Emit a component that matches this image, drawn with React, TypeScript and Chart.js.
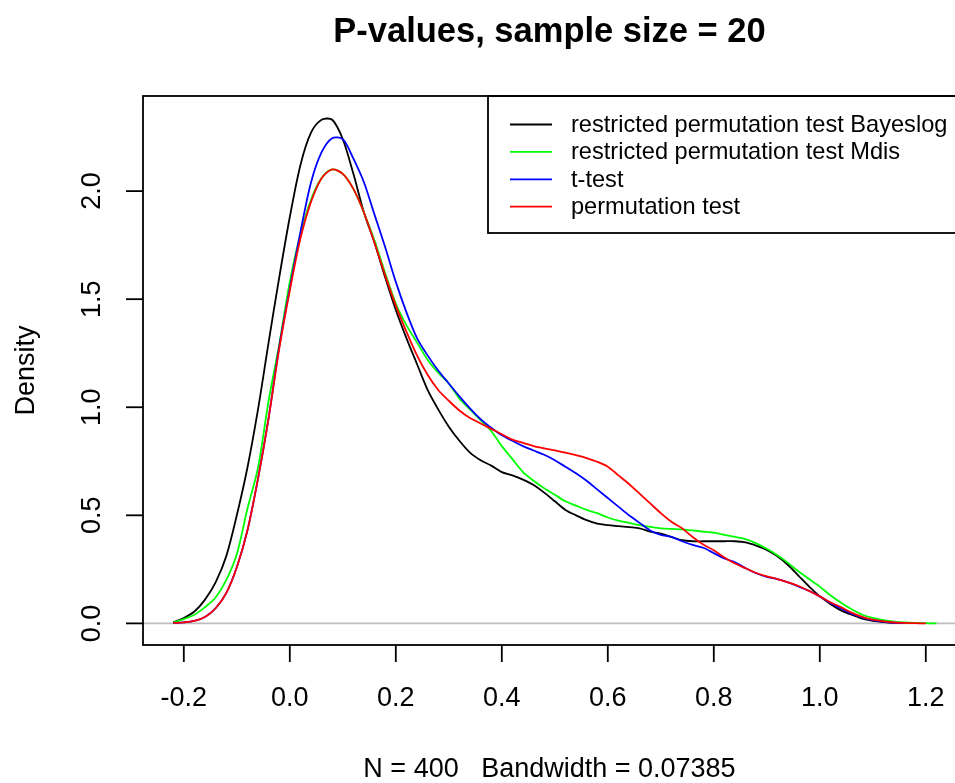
import { useEffect, useRef } from 'react';
import { Chart, registerables } from 'chart.js';

Chart.register(...registerables);

const FONT = '"Liberation Sans", Arial, Helvetica, sans-serif';

const titleText = 'P-values, sample size = 20';
const subText = 'N = 400   Bandwidth = 0.07385';
const yLabel = 'Density';

const xGrid = [
  -0.22, -0.2, -0.18, -0.16, -0.14, -0.12, -0.1, -0.08, -0.06, -0.04, -0.02,
  0.0, 0.02, 0.04, 0.06, 0.08, 0.1, 0.12, 0.14, 0.16, 0.18, 0.2,
  0.22, 0.24, 0.26, 0.28, 0.3, 0.32, 0.34, 0.36, 0.38, 0.4,
  0.42, 0.44, 0.46, 0.48, 0.5, 0.52, 0.54, 0.56, 0.58, 0.6,
  0.62, 0.64, 0.66, 0.68, 0.7, 0.72, 0.74, 0.76, 0.78, 0.8,
  0.82, 0.84, 0.86, 0.88, 0.9, 0.92, 0.94, 0.96, 0.98, 1.0,
  1.02, 1.04, 1.06, 1.08, 1.1, 1.12, 1.14, 1.16, 1.18, 1.2, 1.22,
];

const bayeslog = [
  0.005, 0.025, 0.055, 0.11, 0.19, 0.31, 0.5, 0.72, 0.99, 1.3, 1.6,
  1.88, 2.12, 2.27, 2.33, 2.33, 2.24, 2.08, 1.9, 1.76, 1.6, 1.45,
  1.32, 1.2, 1.08, 0.99, 0.91, 0.845, 0.79, 0.755, 0.73, 0.7,
  0.685, 0.665, 0.64, 0.605, 0.565, 0.525, 0.5, 0.478, 0.462, 0.455,
  0.45, 0.445, 0.44, 0.425, 0.415, 0.4, 0.385, 0.38, 0.38, 0.38,
  0.38, 0.38, 0.375, 0.36, 0.34, 0.31, 0.27, 0.22, 0.17, 0.125,
  0.09, 0.06, 0.04, 0.022, 0.012, 0.006, 0.002, 0.001, null, null, null,
];

const mdis = [
  0.003, 0.02, 0.04, 0.075, 0.12, 0.2, 0.32, 0.53, 0.72, 1.03, 1.29,
  1.58, 1.8, 1.96, 2.06, 2.1, 2.08, 2.01, 1.9, 1.77, 1.62, 1.48,
  1.38, 1.3, 1.22, 1.16, 1.11, 1.04, 0.99, 0.94, 0.89, 0.82,
  0.76, 0.7, 0.66, 0.625, 0.595, 0.565, 0.545, 0.525, 0.51, 0.49,
  0.475, 0.465, 0.455, 0.447, 0.44, 0.437, 0.435, 0.43, 0.425, 0.42,
  0.41, 0.4, 0.39, 0.37, 0.345, 0.315, 0.28, 0.24, 0.205, 0.17,
  0.13, 0.095, 0.065, 0.04, 0.025, 0.015, 0.008, 0.004, 0.002, 0.001, 0.0,
];

const tTest = [
  0.002, 0.005, 0.012, 0.03, 0.07, 0.14, 0.26, 0.43, 0.67, 0.95, 1.28,
  1.55, 1.81, 2.04, 2.18, 2.245, 2.24, 2.15, 2.04, 1.89, 1.74, 1.58,
  1.44, 1.32, 1.24, 1.17, 1.11, 1.05, 0.995, 0.945, 0.905, 0.87,
  0.845, 0.82, 0.8, 0.78, 0.755, 0.725, 0.695, 0.66, 0.62, 0.58,
  0.54, 0.5, 0.465, 0.43, 0.41, 0.4, 0.38, 0.363, 0.35, 0.325,
  0.3, 0.283, 0.255, 0.232, 0.215, 0.205, 0.19, 0.17, 0.15, 0.125,
  0.095, 0.07, 0.045, 0.028, 0.015, 0.008, 0.003, 0.001, null, null, null,
];

const permutation = [
  0.002, 0.005, 0.012, 0.03, 0.07, 0.14, 0.26, 0.43, 0.67, 0.95, 1.27,
  1.54, 1.78, 1.95, 2.06, 2.1, 2.08, 2.01, 1.9, 1.76, 1.61, 1.47,
  1.35, 1.24, 1.15, 1.08, 1.03, 0.985, 0.95, 0.925, 0.9, 0.875,
  0.85, 0.835, 0.82, 0.81, 0.8, 0.79, 0.778, 0.765, 0.748, 0.725,
  0.685, 0.645, 0.6, 0.555, 0.51, 0.47, 0.44, 0.4, 0.365, 0.338,
  0.305, 0.277, 0.255, 0.233, 0.218, 0.205, 0.19, 0.173, 0.15, 0.125,
  0.098, 0.075, 0.05, 0.03, 0.017, 0.009, 0.004, 0.002, 0.001, 0.0, null,
];

const seriesNames = [
  'restricted permutation test Bayeslog',
  'restricted permutation test Mdis',
  't-test',
  'permutation test',
];
const seriesColors = ['#000000', '#00ff00', '#0000ff', '#ff0000'];
const seriesValues = [bayeslog, mdis, tTest, permutation];

const xTicks = [-0.2, 0.0, 0.2, 0.4, 0.6, 0.8, 1.0, 1.2];
const yTicks = [0.0, 0.5, 1.0, 1.5, 2.0];

const rPlugin = {
  id: 'rStyle',
  beforeDatasetsDraw(chart: any) {
    const { ctx, chartArea } = chart;
    const y0 = chart.scales.y.getPixelForValue(0);
    ctx.save();
    ctx.strokeStyle = '#bebebe';
    ctx.lineWidth = 1.8;
    ctx.beginPath();
    ctx.moveTo(chartArea.left, y0);
    ctx.lineTo(chartArea.right, y0);
    ctx.stroke();
    ctx.restore();
  },
  afterDatasetsDraw(chart: any) {
    const { ctx, chartArea } = chart;
    const xs = chart.scales.x;
    const ys = chart.scales.y;
    const L = chartArea.left;
    const R = chartArea.right;
    const T = chartArea.top;
    const B = chartArea.bottom;
    ctx.save();
    ctx.strokeStyle = '#000';
    ctx.fillStyle = '#000';
    ctx.lineWidth = 1.8;
    // box
    ctx.strokeRect(L, T, R - L, B - T);
    // x ticks + labels
    ctx.font = `27px ${FONT}`;
    ctx.textAlign = 'center';
    ctx.textBaseline = 'alphabetic';
    xTicks.forEach((v) => {
      const px = xs.getPixelForValue(v);
      ctx.beginPath();
      ctx.moveTo(px, B);
      ctx.lineTo(px, B + 17);
      ctx.stroke();
      ctx.fillText(v.toFixed(1), px, 706);
    });
    // y ticks + labels (rotated)
    yTicks.forEach((v) => {
      const py = ys.getPixelForValue(v);
      ctx.beginPath();
      ctx.moveTo(L, py);
      ctx.lineTo(L - 17, py);
      ctx.stroke();
      ctx.save();
      ctx.translate(100, py);
      ctx.rotate(-Math.PI / 2);
      ctx.fillText(v.toFixed(1), 0, 0);
      ctx.restore();
    });
    // y axis title
    ctx.save();
    ctx.translate(34, (T + B) / 2);
    ctx.rotate(-Math.PI / 2);
    ctx.fillText(yLabel, 0, 0);
    ctx.restore();
    // sub title
    ctx.fillText(subText, (L + R) / 2, 777);
    // main title
    ctx.font = `bold 34.5px ${FONT}`;
    ctx.fillText(titleText, (L + R) / 2, 42);
    // legend
    const lgLeft = 488;
    const lgBottom = 233;
    ctx.strokeRect(lgLeft, T, R - lgLeft, lgBottom - T);
    ctx.font = `23.6px ${FONT}`;
    ctx.textAlign = 'left';
    ctx.textBaseline = 'middle';
    seriesNames.forEach((name, i) => {
      const cy = 124.5 + i * 27.4;
      ctx.strokeStyle = seriesColors[i];
      ctx.beginPath();
      ctx.moveTo(510, cy);
      ctx.lineTo(552, cy);
      ctx.stroke();
      ctx.fillStyle = '#000';
      ctx.fillText(name, 571, cy + 1);
    });
    ctx.restore();
  },
};

export default function App() {
  const ref = useRef<HTMLCanvasElement>(null);
  useEffect(() => {
    const canvas = ref.current;
    if (!canvas) return;
    const chart = new Chart(canvas, {
      type: 'line',
      data: {
        datasets: seriesValues.map((vals, i) => ({
          label: seriesNames[i],
          data: xGrid.map((x, j) => ({ x, y: vals[j] })),
          borderColor: seriesColors[i],
          backgroundColor: seriesColors[i],
          borderWidth: 1.8,
          pointRadius: 0,
          tension: 0.3,
          fill: false,
          spanGaps: false,
          order: 4 - i,
        })),
      },
      options: {
        animation: false,
        responsive: false,
        devicePixelRatio: 1,
        events: [],
        layout: { padding: { left: 143, top: 96, right: 44, bottom: 138 } },
        plugins: {
          legend: { display: false },
          title: { display: false },
          tooltip: { enabled: false },
        },
        scales: {
          x: { type: 'linear', min: -0.277, max: 1.257, display: false },
          y: { type: 'linear', min: -0.1, max: 2.44, display: false },
        },
      },
      plugins: [rPlugin],
    } as any);
    return () => chart.destroy();
  }, []);
  return (
    <div
      style={{
        position: 'fixed',
        left: 0,
        top: 0,
        width: 955,
        height: 783,
        overflow: 'hidden',
        background: '#ffffff',
      }}
    >
      <canvas
        ref={ref}
        width={1000}
        height={783}
        style={{ display: 'block', width: 1000, height: 783 }}
      />
    </div>
  );
}
